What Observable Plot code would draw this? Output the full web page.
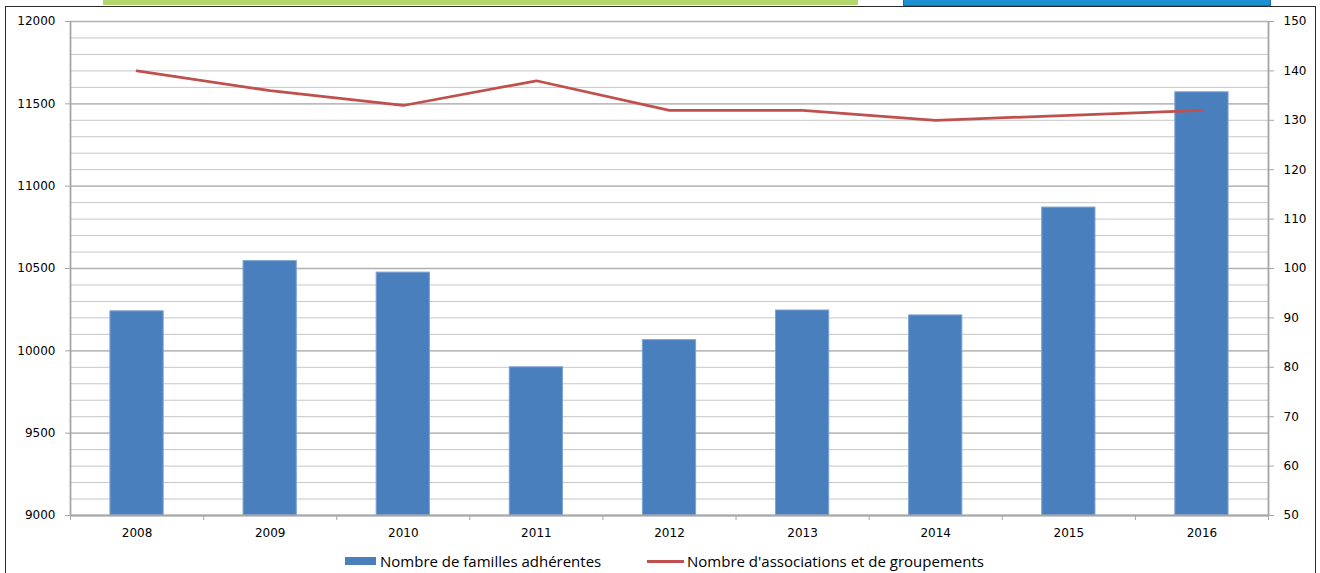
<!DOCTYPE html>
<html>
<head>
<meta charset="utf-8">
<script src="https://cdn.jsdelivr.net/npm/d3@7"></script>
<script src="https://cdn.jsdelivr.net/npm/@observablehq/plot@0.6"></script>
<style>
  html, body { margin: 0; padding: 0; background: #fff; }
  #wrap { position: relative; width: 1320px; height: 573px; overflow: hidden; background: #fff; }
  #topGreen { position: absolute; left: 103px; top: 0; width: 755px; height: 5px; background: #b2d56c; }
  #topBlue { position: absolute; left: 903px; top: -1px; width: 366px; height: 5px; background: #1e8fd0; border: 1px solid #1a6fa8; }
  #frame { position: absolute; left: 5px; top: 6px; width: 1311px; height: 600px; border: 1.5px solid #2b2b2b; box-sizing: border-box; }
  #chart { position: absolute; left: 0; top: 0; }
  #legend { position: absolute; left: 0; top: 549px; width: 1320px; height: 24px; font-family: "Open Sans", sans-serif; font-size: 15px; color: #000; }
  .item { position: absolute; top: 0; height: 24px; display: flex; align-items: center; white-space: nowrap; }
  .swatch-bar { width: 31px; height: 8px; background: #4a7fbd; margin-right: 4px; }
  .swatch-line { width: 37px; height: 3px; background: #c0504d; margin-right: 3px; }
</style>
</head>
<body>
<div id="wrap">
  <div id="topGreen"></div>
  <div id="topBlue"></div>
  <div id="frame"></div>
  <div id="chart"></div>
  <div id="legend"></div>
</div>
<script>
// ---- Data ----
const years = [2008, 2009, 2010, 2011, 2012, 2013, 2014, 2015, 2016];
const familles = [10240, 10545, 10475, 9900, 10065, 10245, 10215, 10870, 11570];
const associations = [140, 136, 133, 138, 132, 132, 130, 131, 132];
const leftTicks = [9000, 9500, 10000, 10500, 11000, 11500, 12000];
const rightTicks = [50, 60, 70, 80, 90, 100, 110, 120, 130, 140, 150];
const seriesNames = ["Nombre de familles adhérentes", "Nombre d'associations et de groupements"];
const colors = { bar: "#4a7fbd", barEdge: "#7ea3d1", line: "#c0504d", grid: "#c6c6c6", gridMajor: "#b0b0b0", axis: "#a6a6a6" };

// ---- Table ----
const data = years.map((year, i) => ({ year, familles: familles[i], associations: associations[i] }));

// secondary axis mapping (right scale -> left scale)
const lMin = leftTicks[0], lMax = leftTicks[leftTicks.length - 1];
const rMin = rightTicks[0], rMax = rightTicks[rightTicks.length - 1];
const toLeft = v => lMin + (v - rMin) * (lMax - lMin) / (rMax - rMin);
const fromLeft = v => rMin + (v - lMin) * (rMax - rMin) / (lMax - lMin);

const minorStep = (leftTicks[1] - leftTicks[0]) / 5;
const minorGrid = d3.range(lMin, lMax + 1, minorStep);
const xLo = years[0] - 0.5, xHi = years[years.length - 1] + 0.5;
const boundaries = years.map(y => y - 0.5).concat([xHi]);
const halfBar = 0.2;

const chart = Plot.plot({
  width: 1320,
  height: 545,
  marginLeft: 70,
  marginRight: 52,
  marginTop: 21,
  marginBottom: 30,
  style: { fontFamily: "'DejaVu Sans', sans-serif", fontSize: "12px", background: "transparent", overflow: "visible", color: "#000" },
  x: { type: "linear", domain: [xLo, xHi], axis: null, label: null },
  y: { domain: [lMin, lMax], axis: null, label: null },
  marks: [
    Plot.ruleY(minorGrid, { stroke: colors.grid, strokeWidth: 1 }),
    Plot.ruleY(leftTicks, { stroke: colors.gridMajor, strokeWidth: 1.3 }),
    Plot.rect(data, {
      x1: d => d.year - halfBar,
      x2: d => d.year + halfBar,
      y1: () => lMin,
      y2: "familles",
      fill: colors.bar,
      stroke: colors.barEdge,
      strokeWidth: 1
    }),
    Plot.ruleX([xLo], { stroke: colors.axis, strokeWidth: 1.8 }),
    Plot.ruleX([xHi], { stroke: colors.axis, strokeWidth: 1.8 }),
    Plot.ruleY([lMin], { stroke: colors.axis, strokeWidth: 1.8 }),
    Plot.line(data, { x: "year", y: d => toLeft(d.associations), stroke: colors.line, strokeWidth: 2.75 }),
    Plot.axisY({ ticks: leftTicks, anchor: "left", label: null, tickSize: 5, tickPadding: 10, stroke: colors.axis, fill: "#000", tickFormat: d => String(d) }),
    Plot.axisY({ ticks: rightTicks.map(toLeft), anchor: "right", label: null, tickSize: 5, tickPadding: 10, stroke: colors.axis, fill: "#000", tickFormat: d => String(Math.round(fromLeft(d))) }),
    Plot.axisX({ ticks: boundaries, anchor: "bottom", label: null, tickSize: 5, stroke: colors.axis, tickFormat: () => "" }),
    Plot.axisX({ ticks: years, anchor: "bottom", label: null, tickSize: 0, tickPadding: 13, fill: "#000", tickFormat: d => String(d) })
  ]
});
document.getElementById("chart").appendChild(chart);

// ---- Legend ----
const legend = document.getElementById("legend");
const item1 = document.createElement("div");
item1.className = "item";
item1.style.left = "345px";
item1.innerHTML = `<span class="swatch-bar"></span><span></span>`;
item1.lastChild.textContent = seriesNames[0];
const item2 = document.createElement("div");
item2.className = "item";
item2.style.left = "647px";
item2.innerHTML = `<span class="swatch-line"></span><span></span>`;
item2.lastChild.textContent = seriesNames[1];
legend.appendChild(item1);
legend.appendChild(item2);
</script>
</body>
</html>
